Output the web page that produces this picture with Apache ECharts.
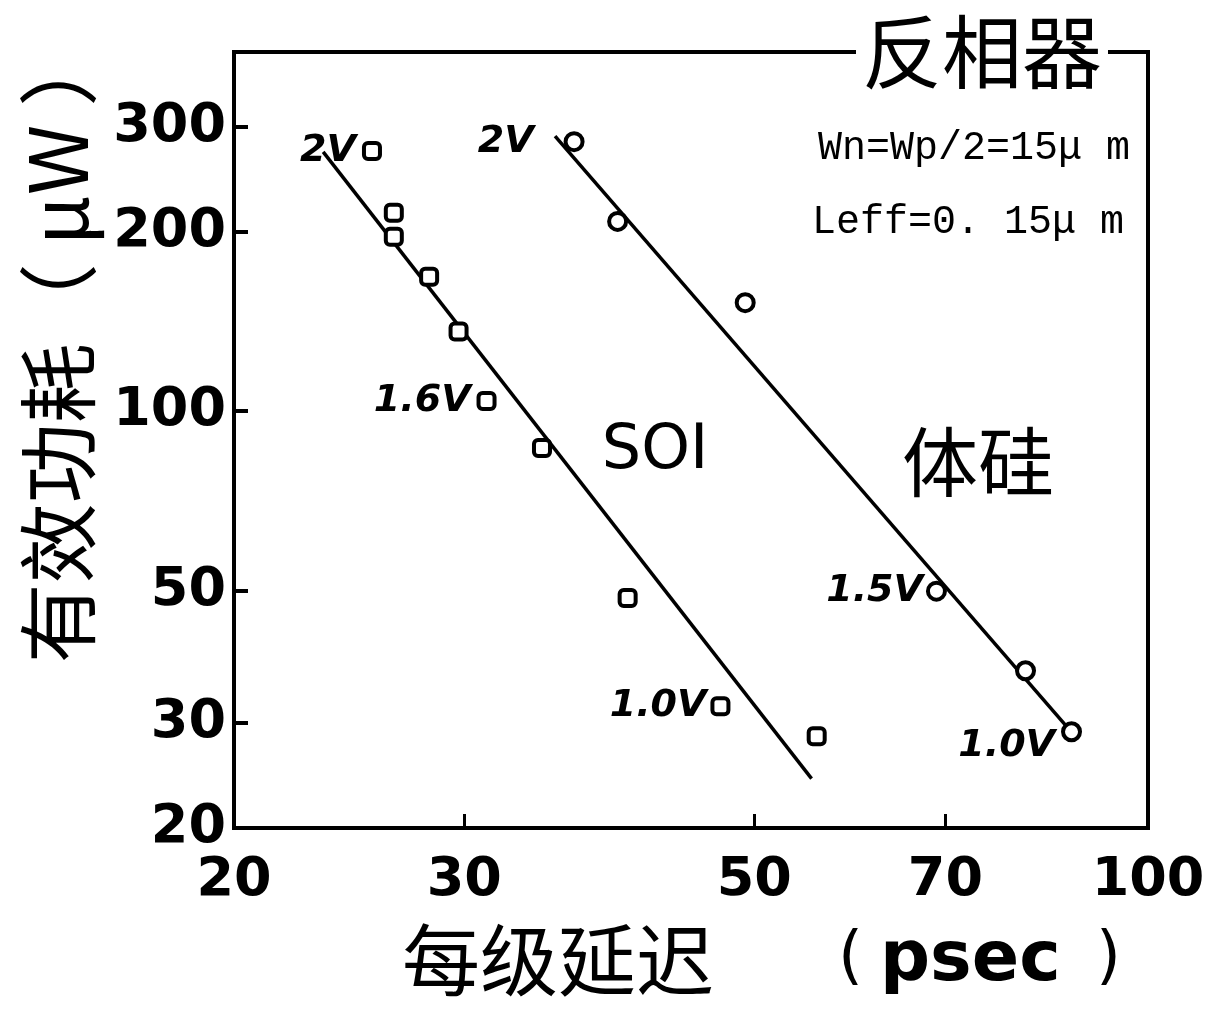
<!DOCTYPE html>
<html>
<head>
<meta charset="utf-8">
<script src="https://cdn.jsdelivr.net/npm/echarts@6/dist/echarts.min.js"></script>
<style>
  html, body { margin: 0; padding: 0; background: #fff; }
  #chart { width: 1212px; height: 1011px; }
</style>
</head>
<body>
<div id="chart"></div>
<script>
// 每级延迟 (psec) / 有效功耗 (μW)
const xTicks = [20, 30, 50, 70, 100];
const yTicks = [20, 30, 50, 100, 200, 300];

const soiDelay = [25.5, 26.5, 26.5, 28.2, 29.7, 31.2, 34.4, 40.0, 47.1, 55.8];
const soiPower = [273, 215, 196, 168, 136, 104, 86.7, 48.6, 32.0, 28.5];
const soiVolt = ['2V', '', '', '', '', '1.6V', '', '', '1.0V', ''];
const soiFit = [[23.4, 272], [55.3, 24.2]];

const bulkDelay = [36.4, 39.3, 49.2, 68.9, 80.6, 87.4];
const bulkPower = [283, 208, 152, 49.9, 36.7, 29.0];
const bulkVolt = ['2V', '', '', '1.5V', '', '1.0V'];
const bulkFit = [[35.2, 289], [87.7, 28.7]];

// label gap / offset for each voltage tag
const soiLabelGap = [6, 0, 0, 0, 0, 6, 0, 0, 4, 0];
const bulkLabelGap = [30, 0, 0, 3, 0, 6];
const bulkLabelOffset = [[0, 0], [0, 0], [0, 0], [0, 0], [0, 0], [0, 14]];

const labelFont = {
    color: '#000',
    fontSize: 38,
    fontWeight: 'bold',
    fontStyle: 'italic',
    fontFamily: 'DejaVu Sans',
};

function buildPoints(xs, ys, tags, gaps, offsets) {
    return xs.map((x, i) => ({
        value: [x, ys[i]],
        label: {
            show: !!tags[i],
            formatter: tags[i],
            position: 'left',
            distance: gaps[i],
            offset: offsets ? offsets[i] : [0, 0],
            ...labelFont,
        },
    }));
}

const tickFont = {
    color: '#000',
    fontSize: 54,
    fontWeight: 'bold',
    fontFamily: 'DejaVu Sans',
};

const markStyle = { color: '#fff', borderColor: '#000', borderWidth: 4, opacity: 1 };

const option = {
    animation: false,
    backgroundColor: '#fff',
    title: {
        text: '反相器',
        left: 856,
        top: 12,
        padding: [0, 6, 0, 6],
        backgroundColor: '#fff',
        textStyle: {
            color: '#000',
            fontSize: 80,
            fontWeight: 'normal',
            fontFamily: 'Noto Sans CJK SC',
        },
    },
    grid: {
        left: 234,
        right: 64,
        top: 52,
        bottom: 183,
        show: true,
        borderColor: '#000',
        borderWidth: 4,
    },
    xAxis: {
        type: 'log',
        logBase: 10,
        min: 20,
        max: 100,
        axisLine: { show: true, lineStyle: { color: '#000', width: 4 } },
        axisTick: {
            show: true,
            inside: true,
            length: 14,
            customValues: xTicks,
            lineStyle: { color: '#000', width: 3 },
        },
        axisLabel: {
            customValues: xTicks,
            margin: 26,
            formatter: (v) => String(Math.round(v)),
            ...tickFont,
        },
        splitLine: { show: false },
    },
    yAxis: {
        type: 'log',
        logBase: 10,
        min: 20,
        max: 400,
        axisLine: { show: true, lineStyle: { color: '#000', width: 4 } },
        axisTick: {
            show: true,
            inside: true,
            length: 14,
            customValues: yTicks,
            lineStyle: { color: '#000', width: 4 },
        },
        axisLabel: {
            customValues: yTicks,
            margin: 8,
            formatter: (v) => String(Math.round(v)),
            ...tickFont,
        },
        splitLine: { show: false },
    },
    graphic: [
        {
            type: 'text',
            x: 58,
            y: 345,
            rotation: Math.PI / 2,
            style: {
                text: '有效功耗（ μW ）',
                x: 0,
                y: 0,
                align: 'center',
                verticalAlign: 'middle',
                fill: '#000',
                font: '80px "Noto Sans CJK SC"',
            },
        },
        {
            type: 'text',
            x: 402,
            y: 960,
            style: {
                text: '每级延迟',
                verticalAlign: 'middle',
                fill: '#000',
                font: '78px "Noto Sans CJK SC"',
            },
        },
        {
            type: 'text',
            x: 838,
            y: 960,
            style: {
                text: '(',
                verticalAlign: 'middle',
                fill: '#000',
                font: '64px "DejaVu Sans"',
            },
        },
        {
            type: 'text',
            x: 880,
            y: 962,
            style: {
                text: 'psec',
                verticalAlign: 'middle',
                fill: '#000',
                font: 'bold 70px "DejaVu Sans"',
            },
        },
        {
            type: 'text',
            x: 1096,
            y: 960,
            style: {
                text: ')',
                verticalAlign: 'middle',
                fill: '#000',
                font: '64px "DejaVu Sans"',
            },
        },
        {
            type: 'text',
            x: 1130,
            y: 148,
            style: {
                text: 'Wn=Wp/2=15μ m',
                align: 'right',
                verticalAlign: 'middle',
                fill: '#000',
                font: '40px "Liberation Mono"',
            },
        },
        {
            type: 'text',
            x: 1124,
            y: 222,
            style: {
                text: 'Leff=0. 15μ m',
                align: 'right',
                verticalAlign: 'middle',
                fill: '#000',
                font: '40px "Liberation Mono"',
            },
        },
        {
            type: 'text',
            x: 655,
            y: 452,
            style: {
                text: 'SOI',
                align: 'center',
                verticalAlign: 'middle',
                fill: '#000',
                font: '62px "DejaVu Sans"',
            },
        },
        {
            type: 'text',
            x: 978,
            y: 462,
            style: {
                text: '体硅',
                align: 'center',
                verticalAlign: 'middle',
                fill: '#000',
                font: '76px "Noto Sans CJK SC"',
            },
        },
    ],
    series: [
        {
            name: 'SOI拟合',
            type: 'line',
            data: soiFit,
            showSymbol: false,
            lineStyle: { color: '#000', width: 3.5 },
            z: 2,
        },
        {
            name: '体硅拟合',
            type: 'line',
            data: bulkFit,
            showSymbol: false,
            lineStyle: { color: '#000', width: 3.5 },
            z: 2,
        },
        {
            name: 'SOI',
            type: 'scatter',
            symbol: 'roundRect',
            symbolSize: 16,
            itemStyle: markStyle,
            data: buildPoints(soiDelay, soiPower, soiVolt, soiLabelGap),
            z: 3,
        },
        {
            name: '体硅',
            type: 'scatter',
            symbol: 'circle',
            symbolSize: 17,
            itemStyle: markStyle,
            data: buildPoints(bulkDelay, bulkPower, bulkVolt, bulkLabelGap, bulkLabelOffset),
            z: 3,
        },
    ],
};

const myChart = echarts.init(document.getElementById('chart'));
myChart.setOption(option);
</script>
</body>
</html>
